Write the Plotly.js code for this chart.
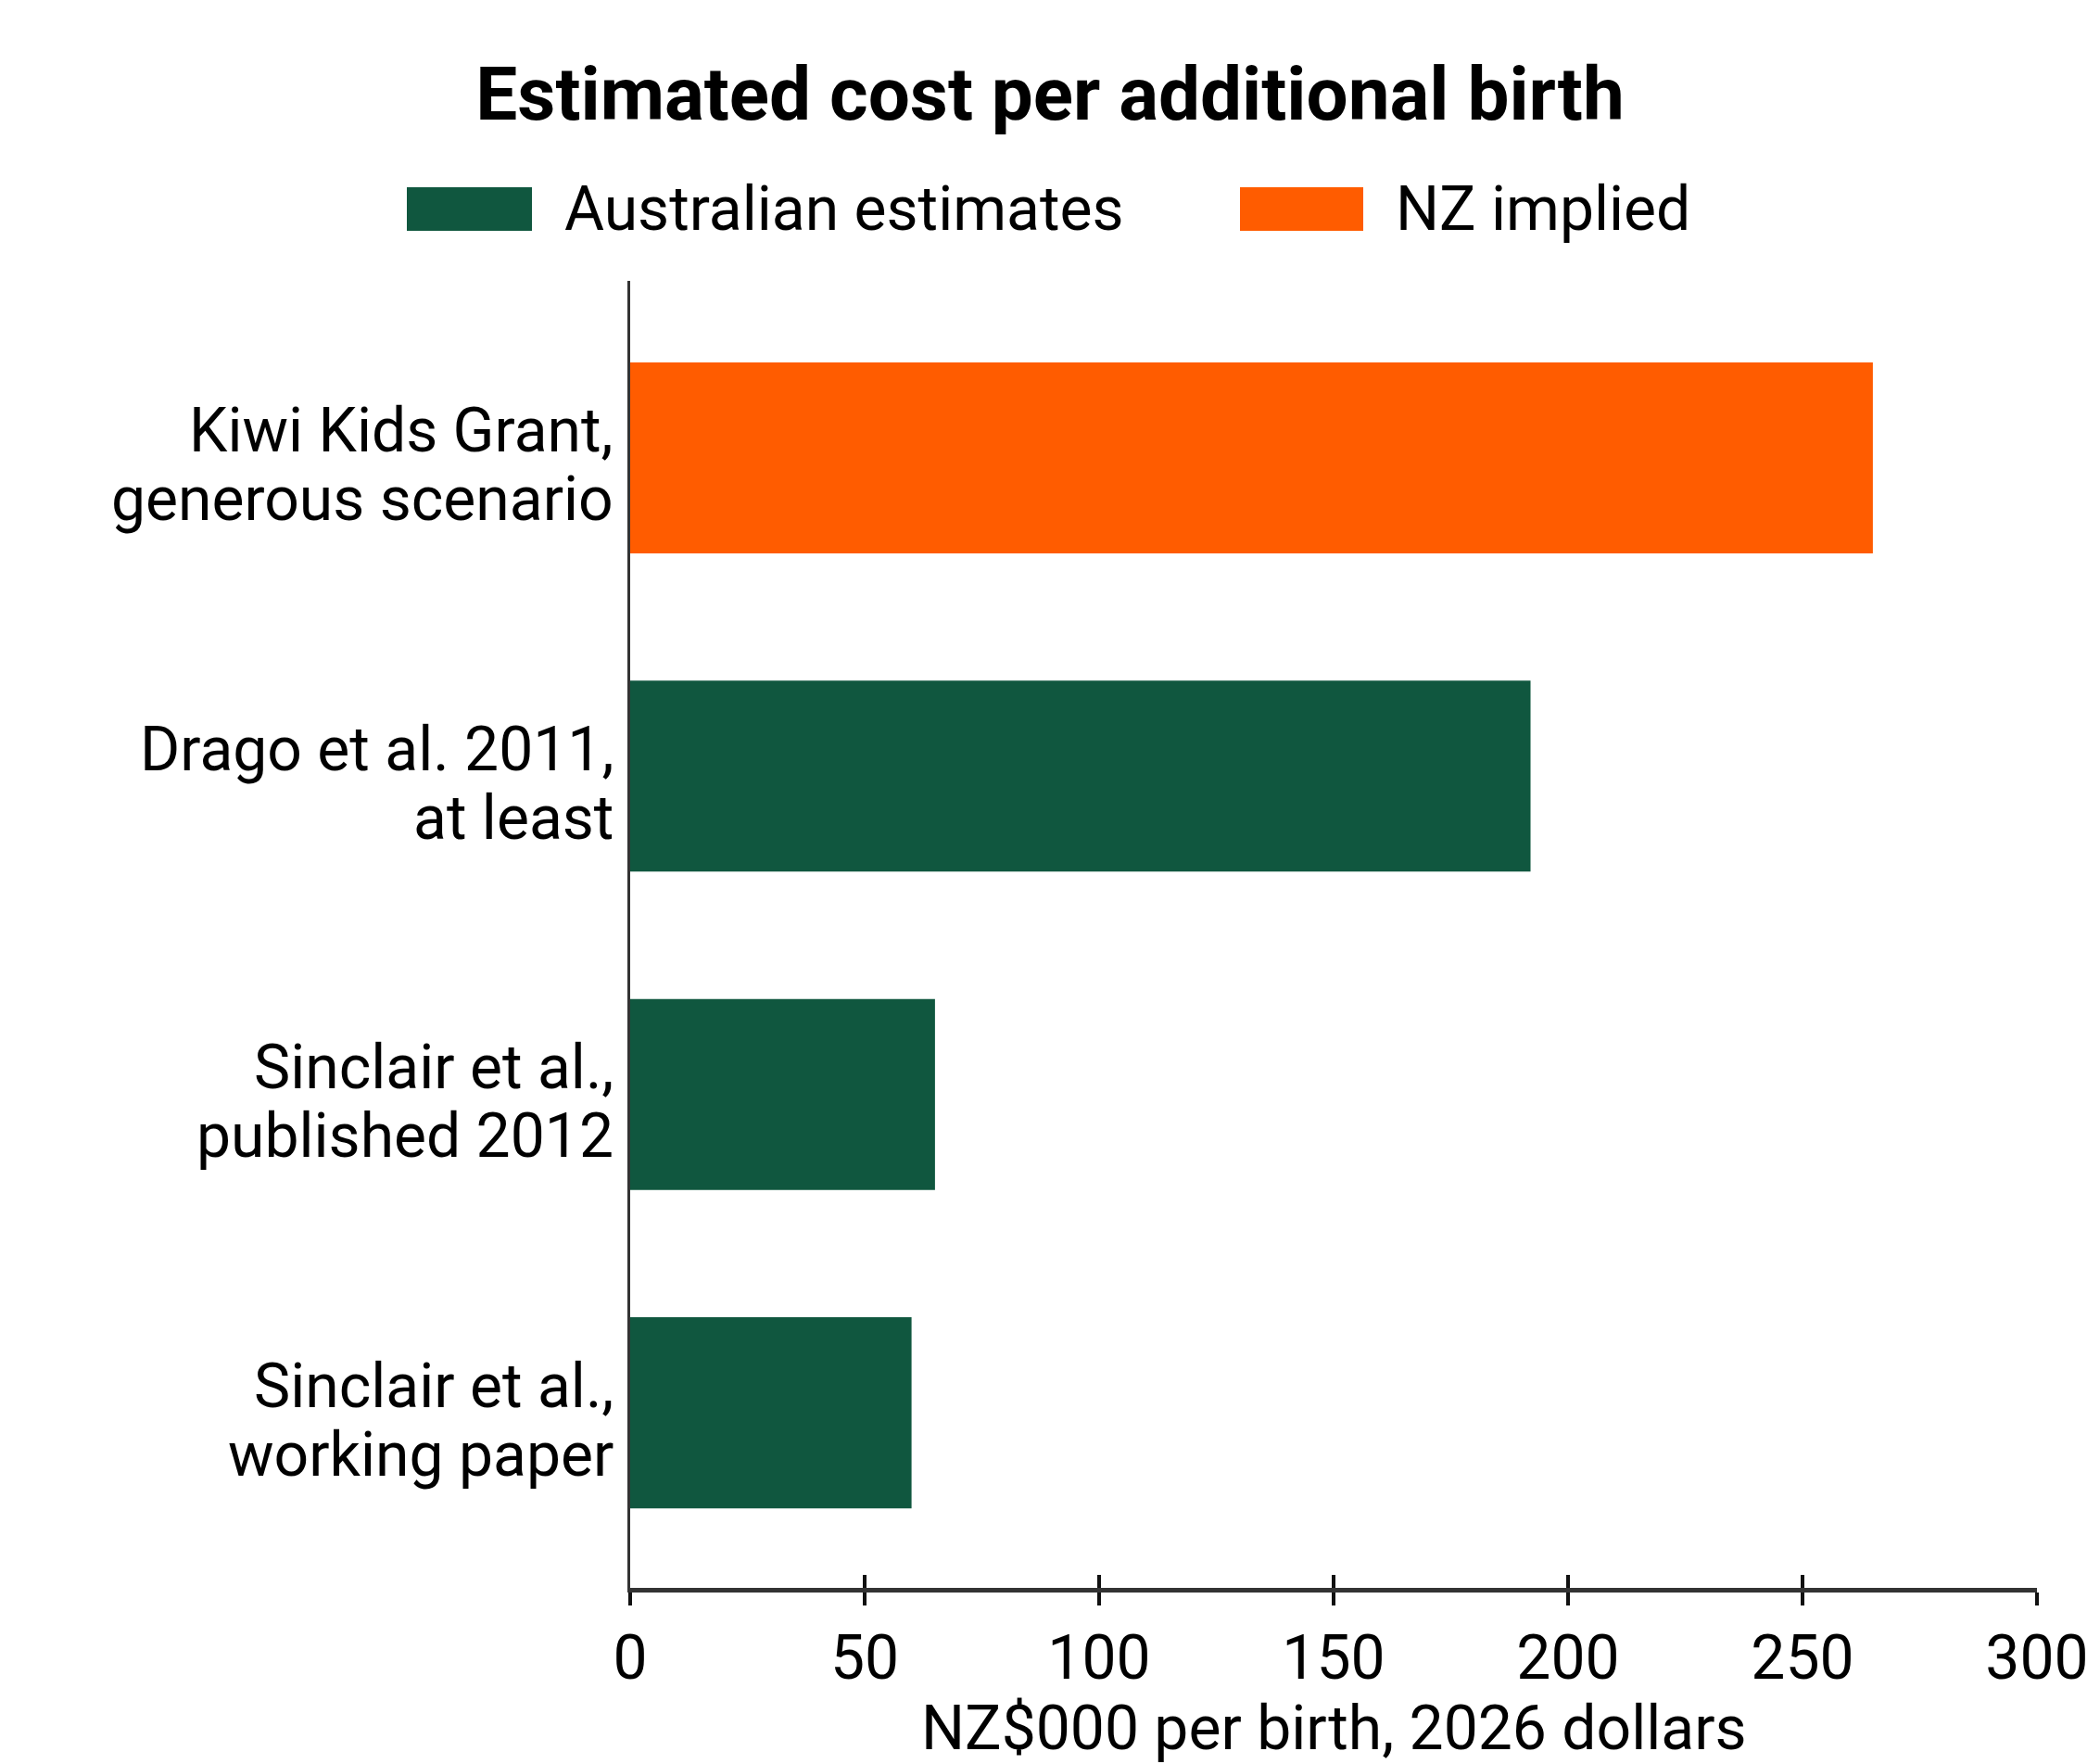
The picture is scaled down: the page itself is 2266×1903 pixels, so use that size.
<!DOCTYPE html>
<html>
<head>
<meta charset="utf-8">
<script src="https://cdn.plot.ly/plotly-3.0.1.min.js"></script>
<style>
  html, body { margin: 0; padding: 0; background: #fff; }
  #chart { width: 2266px; height: 1903px; }
</style>
</head>
<body>
<div id="chart"></div>
<script>
// Data, bottom bar first
var categories = ['working', 'published', 'drago', 'kiwi']
var label_line1 = ['Sinclair et al.,', 'Sinclair et al.,', 'Drago et al. 2011,', 'Kiwi Kids Grant,']
var label_line2 = ['working paper', 'published 2012', 'at least', 'generous scenario']
var cost_thousands = [60, 65, 192, 265]
var source_group = ['Australian estimates', 'Australian estimates', 'Australian estimates', 'NZ implied']
var x_ticks = [0, 50, 100, 150, 200, 250, 300]
var x_title = 'NZ$000 per birth, 2026 dollars'

var group_names = ['Australian estimates', 'NZ implied']
var group_colors = {'Australian estimates': '#10573F', 'NZ implied': '#FF5C00'}

var W = 2266, H = 1903
var margin = {l: 680, r: 68, t: 303, b: 190}
var plot_w = W - margin.l - margin.r
var plot_h = H - margin.t - margin.b

// pixel -> paper helpers for the hand placed legend and axis title
function px(x) { return (x - margin.l) / plot_w }
function py(y) { return (H - margin.b - y) / plot_h }

var FONT = 'Roboto, "Noto Sans", sans-serif'

var bars = {
  type: 'bar',
  orientation: 'h',
  y: categories,
  x: cost_thousands,
  width: 0.6,
  marker: {color: source_group.map(g => group_colors[g]), line: {width: 0}},
  hoverinfo: 'x',
  showlegend: false
}

// empty trace so the overlay axis (inner half of the ticks) gets drawn
var tick_helper = {
  type: 'scatter', x: [], y: [], xaxis: 'x2', yaxis: 'y',
  hoverinfo: 'skip', showlegend: false
}

var annotations = []
categories.forEach((c, i) => {
  annotations.push({
    xref: 'paper', yref: 'y', x: 0, y: c, xanchor: 'right', yanchor: 'middle',
    xshift: -16, yshift: 29, showarrow: false, align: 'right',
    text: label_line1[i], font: {family: FONT, size: 66, color: '#000'}
  })
  annotations.push({
    xref: 'paper', yref: 'y', x: 0, y: c, xanchor: 'right', yanchor: 'middle',
    xshift: -16, yshift: -45, showarrow: false, align: 'right',
    text: label_line2[i], font: {family: FONT, size: 66, color: '#000'}
  })
})

// legend drawn by hand so the swatches can be wide
var legend_swatch = [[439, 574], [1338, 1471]]
var shapes = []
group_names.forEach((g, i) => {
  shapes.push({
    type: 'rect', xref: 'paper', yref: 'paper',
    x0: px(legend_swatch[i][0]), x1: px(legend_swatch[i][1]),
    y0: py(249), y1: py(202),
    fillcolor: group_colors[g], line: {width: 0}
  })
  annotations.push({
    xref: 'paper', yref: 'paper', x: px(legend_swatch[i][1] + 33), y: py(225),
    xanchor: 'left', yanchor: 'middle', showarrow: false,
    text: g, font: {family: FONT, size: 66, color: '#000'}
  })
})

// x axis title (standoff is ignored without automargin)
annotations.push({
  xref: 'paper', yref: 'paper', x: 0.5, y: py(1864),
  xanchor: 'center', yanchor: 'middle', showarrow: false,
  text: x_title, font: {family: FONT, size: 66, color: '#000'}
})

var layout = {
  width: W, height: H,
  margin: margin,
  paper_bgcolor: '#fff', plot_bgcolor: '#fff',
  font: {family: FONT, color: '#000'},
  title: {
    text: '<b>Estimated cost per additional birth</b>',
    font: {family: FONT, size: 80, color: '#000'},
    x: 0.5, xref: 'container', xanchor: 'center',
    y: 1 - 101 / H, yref: 'container', yanchor: 'middle'
  },
  bargap: 0.4,
  xaxis: {
    range: [0, 300],
    tickvals: x_ticks,
    ticks: 'outside', ticklen: 14, tickwidth: 4.5, tickcolor: '#111',
    showline: true, linewidth: 5, linecolor: '#333',
    showgrid: false, zeroline: false,
    tickfont: {family: FONT, size: 66, color: '#000'},
    fixedrange: true
  },
  xaxis2: {
    range: [0, 300], overlaying: 'x', anchor: 'y', side: 'bottom',
    tickvals: x_ticks,
    ticks: 'inside', ticklen: 14, tickwidth: 4.5, tickcolor: '#111',
    showticklabels: false, showline: false, showgrid: false, zeroline: false
  },
  yaxis: {
    type: 'category',
    categoryarray: categories,
    range: [-0.55, 3.556],
    showticklabels: false, ticks: '',
    showline: true, linewidth: 3, linecolor: '#333',
    showgrid: false, zeroline: false,
    fixedrange: true
  },
  shapes: shapes,
  annotations: annotations,
  showlegend: false
}

Plotly.newPlot('chart', [bars, tick_helper], layout, {displayModeBar: false, staticPlot: true})
</script>
</body>
</html>
